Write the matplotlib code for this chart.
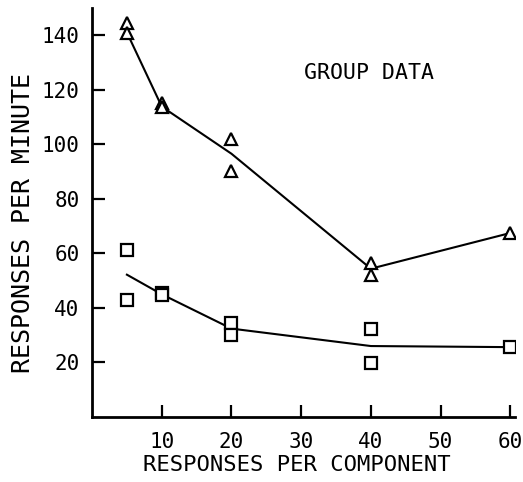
import numpy as np
import matplotlib.pyplot as plt

# observed points (two per condition where visible)
tri_x = [5, 5, 10, 10, 20, 20, 40, 40, 60]
tri_y = [144.5, 141, 115, 113.8, 102, 90.3, 56.3, 51.9, 67.4]
sq_x = [5, 5, 10, 10, 20, 20, 40, 40, 60]
sq_y = [61.3, 42.7, 45.2, 44.8, 34.2, 29.9, 32.1, 19.7, 25.5]

# mean lines
line_x = [5, 10, 20, 40, 60]
tri_line = [141, 113.8, 96.5, 54.3, 67.4]
sq_line = [52.1, 44.9, 32.3, 25.9, 25.5]

xticks = [10, 20, 30, 40, 50, 60]
yticks = [20, 40, 60, 80, 100, 120, 140]

plt.rcParams['font.family'] = ['DejaVu Sans Mono']

fig = plt.figure(figsize=(5.23, 4.82), dpi=100)
ax = fig.add_axes([0.176, 0.1357, 0.809, 0.8477])

ax.plot(line_x, tri_line, color='black', lw=1.5)
ax.plot(line_x, sq_line, color='black', lw=1.5)
ax.plot(tri_x, tri_y, linestyle='none', marker='^', markersize=8.5,
        markerfacecolor='white', markeredgecolor='black', markeredgewidth=1.6)
ax.plot(sq_x, sq_y, linestyle='none', marker='s', markersize=8,
        markerfacecolor='white', markeredgecolor='black', markeredgewidth=1.6)

ax.text(30.4, 126, 'GROUP DATA', fontsize=15.5, va='center', ha='left')

ax.set_xlim(0, 60.7)
ax.set_ylim(0, 150)
ax.set_xticks(xticks)
ax.set_yticks(yticks)
ax.tick_params(direction='in', length=9, width=1.6, labelsize=15, pad=9)
ax.tick_params(axis='x', pad=11)
for s in ['top', 'right']:
    ax.spines[s].set_visible(False)
for s in ['left', 'bottom']:
    ax.spines[s].set_linewidth(2)

ax.set_xlabel('RESPONSES PER COMPONENT', fontsize=16)
ax.set_ylabel('RESPONSES PER MINUTE', fontsize=18)
ax.xaxis.set_label_coords(0.483, -0.095)
ax.yaxis.set_label_coords(-0.136, 0.474)

fig.savefig('out.png', dpi=100)
